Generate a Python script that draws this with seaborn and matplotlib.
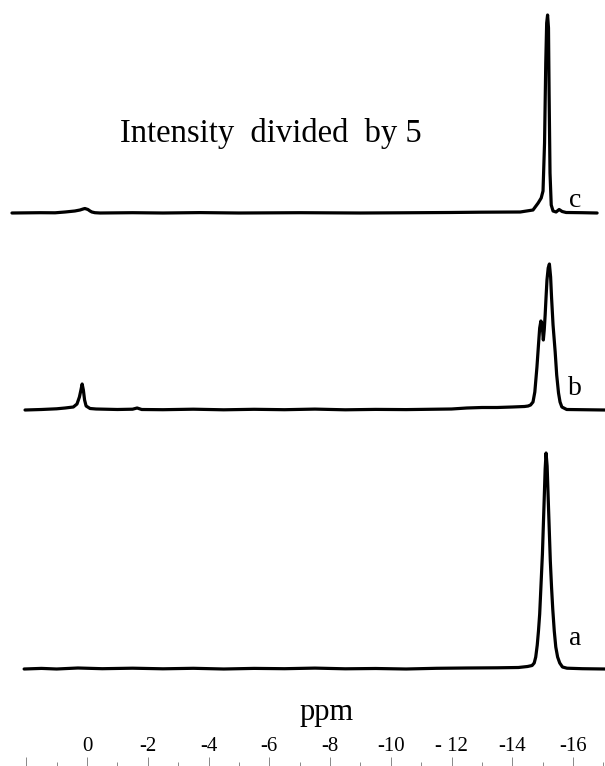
import matplotlib
matplotlib.use("Agg")
import matplotlib.pyplot as plt
import seaborn as sns

# spectrum a (ppm, intensity)
a_ppm = [2.07, 1.5, 1.0, 0.3, -0.5, -1.5, -2.5, -3.5, -4.5, -5.5, -6.5, -7.5, -8.5,
         -9.5, -10.5, -11.5, -12.5, -13.5, -14.2, -14.5, -14.65, -14.72, -14.77,
         -14.82, -14.86, -14.90, -14.93, -14.96, -14.99, -15.02, -15.05, -15.08,
         -15.11, -15.145, -15.18, -15.22, -15.25, -15.29, -15.33, -15.38, -15.43,
         -15.49, -15.56, -15.65, -15.8, -16.3, -17.05]
a_int = [0, 0.6, 0, 1.0, 0.3, 0.8, 0.2, 0.7, 0, 0.6, 0.3, 0.9, 0.2,
         0.5, 0, 0.7, 1.0, 1.2, 1.5, 2.5, 3.5, 6, 12,
         24, 38, 55, 75, 95, 115, 143, 171, 200,
         216, 203, 171, 135, 108, 82, 60, 38, 22,
         12, 6, 2, 0.8, 0.3, 0]

# spectrum b
b_ppm = [2.04, 1.5, 1.0, 0.72, 0.45, 0.33, 0.25, 0.2, 0.16, 0.12, 0.08, 0.03, -0.1,
         -0.3, -1.0, -1.5, -1.65, -1.8, -2.5, -3.5, -4.5, -5.5, -6.5, -7.5, -8.5,
         -9.5, -10.5, -11.5, -12.0, -12.5, -13.0, -13.5, -14.0, -14.4, -14.52,
         -14.60, -14.68, -14.74, -14.81, -14.86, -14.90, -14.94, -14.97, -15.00,
         -15.02, -15.05, -15.08, -15.11, -15.14, -15.18, -15.22, -15.26, -15.29,
         -15.34, -15.41, -15.46, -15.52, -15.57, -15.63, -15.79, -16.3, -17.05]
b_int = [0, 0.5, 1.2, 2, 3, 6, 13, 20, 26, 20, 10, 4, 1.5,
         1, 0.5, 0.8, 2, 0.5, 0.3, 0.8, 0.2, 0.7, 0.3, 0.9, 0.2,
         0.6, 0.4, 0.8, 1, 2, 2.5, 2.5, 3, 3.5, 4,
         5, 8, 18, 43, 65, 82, 89, 87, 78,
         70, 80, 95, 113, 130, 142, 146, 133, 113,
         85, 58, 35, 17, 8, 3, 0.5, 0.3, 0]

# spectrum c (intensity divided by 5)
c_ppm = [2.47, 1.55, 1.05, 0.72, 0.56, 0.40, 0.23, 0.13, 0.07, -0.03, -0.10, -0.16,
         -0.26, -0.43, -1.5, -2.5, -3.72, -5.0, -7.01, -9.0, -10.30, -11.95, -12.94,
         -14.26, -14.68, -14.85, -14.95, -15.01, -15.06, -15.10, -15.13, -15.16,
         -15.19, -15.21, -15.24, -15.28, -15.34, -15.44, -15.54, -15.64, -15.77,
         -16.3, -16.79]
c_int = [0, 0.3, 0.2, 1, 1.5, 2, 3, 4, 4.5, 3.5, 2, 1,
         0.3, 0, 0.3, 0, 0.4, 0, 0.3, 0, 0.2, 0.5, 0.8,
         1, 3, 10, 15, 22, 70, 150, 190, 198,
         185, 120, 40, 8, 2, 1, 3.5, 1.5, 0.5,
         0.3, 0]

trace_labels = ["a", "b", "c"]
major_ticks = [2, 0, -2, -4, -6, -8, -10, -12, -14, -16]
major_labels = ["", "0", "-2", "-4", "-6", "-8", "-10", "- 12", "-14", "-16"]
minor_ticks = [1, -1, -3, -5, -7, -9, -11, -13, -15, -17]

sns.set_style("white")
plt.rcParams["font.family"] = ["Liberation Serif", "DejaVu Serif"]
plt.rcParams["text.color"] = "black"
plt.rcParams["xtick.labelcolor"] = "black"

fig = plt.figure(figsize=(6.05, 7.66), dpi=100)
ax = fig.add_axes([0, 0, 1, 1])

offsets = [97, 356, 553]
spectra = [(a_ppm, a_int), (b_ppm, b_int), (c_ppm, c_int)]
for (xs, ys), off in zip(spectra, offsets):
    sns.lineplot(x=xs, y=[v + off for v in ys], color="black", lw=2.3,
                 sort=False, ax=ax)

ax.set_xlim(2.864, -17.05)
ax.set_ylim(0, 766)
ax.set_yticks([])
for s in ax.spines.values():
    s.set_visible(False)

ax.set_xticks(major_ticks)
ax.set_xticklabels(major_labels)
ax.set_xticks(minor_ticks, minor=True)
ax.tick_params(axis="x", which="major", bottom=True, direction="in", length=6.5,
               width=0.7, color="#888888", labelsize=15, labelcolor="black", pad=-21)
ax.tick_params(axis="x", which="minor", bottom=True, direction="in", length=3,
               width=0.7, color="#888888")

# trace letters
for lab, yb in zip(trace_labels, [645, 395, 207]):
    fig.text(575 / 605, 1 - yb / 766, lab, ha="center", va="baseline", fontsize=20)

fig.text(327 / 605, 1 - 720 / 766, "ppm", ha="center", va="baseline", fontsize=22)
fig.text(120 / 605, 1 - 142 / 766, "Intensity  divided  by 5", ha="left",
         va="baseline", fontsize=23.5)

fig.savefig("out.png", dpi=100)
